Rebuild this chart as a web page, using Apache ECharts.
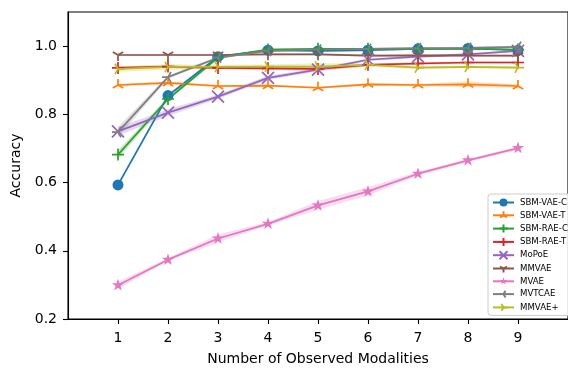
<!DOCTYPE html>
<html>
<head>
<meta charset="utf-8">
<script src="https://cdn.jsdelivr.net/npm/echarts@6/dist/echarts.min.js"></script>
<style>html,body{margin:0;padding:0;background:#fff}#c{width:568px;height:371px}</style>
</head>
<body>
<div id="c"></div>
<script>
// ---- data ----
const modalities = [1, 2, 3, 4, 5, 6, 7, 8, 9];
const seriesNames = ['SBM-VAE-C', 'SBM-VAE-T', 'SBM-RAE-C', 'SBM-RAE-T', 'MoPoE', 'MMVAE', 'MVAE', 'MVTCAE', 'MMVAE+'];
const sbmVaeC   = [0.593, 0.855, 0.969, 0.988, 0.986, 0.988, 0.992, 0.993, 0.988];
const sbmVaeT   = [0.886, 0.892, 0.883, 0.884, 0.878, 0.888, 0.886, 0.888, 0.883];
const sbmRaeC   = [0.682, 0.845, 0.966, 0.990, 0.992, 0.992, 0.992, 0.992, 0.990];
const sbmRaeT   = [0.936, 0.940, 0.936, 0.935, 0.933, 0.945, 0.949, 0.952, 0.952];
const mopoe     = [0.750, 0.805, 0.852, 0.907, 0.931, 0.960, 0.969, 0.976, 0.986];
const mmvae     = [0.974, 0.974, 0.974, 0.976, 0.976, 0.972, 0.973, 0.972, 0.972];
const mvae      = [0.299, 0.374, 0.436, 0.479, 0.533, 0.574, 0.626, 0.665, 0.701];
const mvtcae    = [0.748, 0.909, 0.966, 0.986, 0.990, 0.992, 0.994, 0.995, 0.998];
const mmvaePlus = [0.933, 0.939, 0.939, 0.940, 0.940, 0.945, 0.937, 0.939, 0.937];
// half-widths of the shaded bands
const sbmVaeCErr   = [0.005, 0.005, 0.003, 0.003, 0.003, 0.003, 0.002, 0.002, 0.003];
const sbmVaeTErr   = [0.004, 0.004, 0.003, 0.003, 0.003, 0.004, 0.004, 0.008, 0.005];
const sbmRaeCErr   = [0.012, 0.006, 0.004, 0.003, 0.003, 0.002, 0.002, 0.002, 0.002];
const sbmRaeTErr   = [0.004, 0.004, 0.003, 0.004, 0.006, 0.004, 0.004, 0.003, 0.003];
const mopoeErr     = [0.012, 0.010, 0.006, 0.006, 0.005, 0.004, 0.004, 0.003, 0.003];
const mmvaeErr     = [0.003, 0.003, 0.003, 0.003, 0.003, 0.003, 0.003, 0.003, 0.003];
const mvaeErr      = [0.010, 0.005, 0.012, 0.005, 0.013, 0.012, 0.006, 0.005, 0.005];
const mvtcaeErr    = [0.015, 0.005, 0.004, 0.003, 0.003, 0.003, 0.003, 0.003, 0.003];
const mmvaePlusErr = [0.008, 0.008, 0.006, 0.006, 0.010, 0.005, 0.004, 0.004, 0.004];
const yTicks = [0.2, 0.4, 0.6, 0.8, 1.0];

// ---- styling ----
const colors = ['#1f77b4', '#ff7f0e', '#2ca02c', '#d62728', '#9467bd', '#8c564b', '#e377c2', '#7f7f7f', '#bcbd22'];
const C = 'M-10,-10L-10,-10M10,10L10,10';
const symbols = [
  'circle',
  'path://' + C + 'M0,0L0,-10M0,0L-8.66,5M0,0L8.66,5',
  'path://' + C + 'M-10,0L10,0M0,-10L0,10',
  'path://' + C + 'M-10,0L10,0M0,-10L0,10',
  'path://' + C + 'M-10,-10L10,10M-10,10L10,-10',
  'path://' + C + 'M0,0L0,10M0,0L-8.66,-5M0,0L8.66,-5',
  'path://' + C + 'M0,-10L2.245,-3.09L9.511,-3.09L3.633,1.18L5.878,8.09L0,3.82L-5.878,8.09L-3.633,1.18L-9.511,-3.09L-2.245,-3.09Z',
  'path://' + C + 'M0,0L-10,0M0,0L5,-8.66M0,0L5,8.66',
  'path://' + C + 'M0,0L10,0M0,0L-5,-8.66M0,0L-5,8.66'
];
const sizes = [11, 12, 12, 12, 12, 12, 13, 12, 12];
const values = [sbmVaeC, sbmVaeT, sbmRaeC, sbmRaeT, mopoe, mmvae, mvae, mvtcae, mmvaePlus];
const errs = [sbmVaeCErr, sbmVaeTErr, sbmRaeCErr, sbmRaeTErr, mopoeErr, mmvaeErr, mvaeErr, mvtcaeErr, mmvaePlusErr];

const series = [];
values.forEach((v, i) => {
  const e = errs[i];
  series.push({
    name: '_band' + i, type: 'custom', silent: true, z: 1,
    data: modalities.map((x, k) => [x, v[k] - e[k], v[k] + e[k]]),
    encode: { x: 0, y: [1, 2] },
    renderItem: (params, api) => {
      if (params.dataIndexInside !== 0) return null;
      const n = modalities.length;
      const up = [], lo = [];
      for (let k = 0; k < n; k++) {
        up.push(api.coord([api.value(0, k), api.value(2, k)]));
        lo.unshift(api.coord([api.value(0, k), api.value(1, k)]));
      }
      return { type: 'polygon', shape: { points: up.concat(lo) }, style: { fill: colors[i], opacity: 0.25 } };
    }
  });
});
values.forEach((v, i) => {
  const filled = (i === 0 || i === 6);
  series.push({
    name: seriesNames[i], type: 'line', z: 2,
    symbol: symbols[i], symbolSize: sizes[i],
    lineStyle: { color: colors[i], width: 1.7 },
    itemStyle: { color: colors[i], borderColor: colors[i], borderWidth: filled ? 0 : 1.7 },
    emphasis: { disabled: true },
    data: modalities.map((x, k) => [x, v[k]])
  });
});

const txt = { fontFamily: 'DejaVu Sans', color: '#000', fontSize: 14 };
const option = {
  animation: false,
  backgroundColor: '#fff',
  grid: { left: 68, top: 12, bottom: 47.5, right: -7, show: true, borderColor: '#000', borderWidth: 1.1, containLabel: false },
  xAxis: {
    type: 'value', min: 0, max: 10, interval: 1,
    name: 'Number of Observed Modalities', nameLocation: 'middle', nameGap: 33,
    nameTextStyle: txt,
    axisLine: { show: true, lineStyle: { color: '#000', width: 1.1 } },
    axisTick: { show: true, length: 5, inside: false, lineStyle: { color: '#000', width: 1.1 }, customValues: modalities },
    axisLabel: { ...txt, margin: 12, customValues: modalities,
      formatter: v => (v >= 1 && v <= 9) ? String(v) : '' },
    splitLine: { show: false }
  },
  yAxis: {
    type: 'value', min: 0.2, max: 1.1, interval: 0.2,
    name: 'Accuracy', nameLocation: 'middle', nameGap: 42,
    nameTextStyle: txt,
    axisLine: { show: true, lineStyle: { color: '#000', width: 1.1 } },
    axisTick: { show: true, length: 5, lineStyle: { color: '#000', width: 1.1 }, customValues: yTicks },
    axisLabel: { ...txt, margin: 11, customValues: yTicks,
      formatter: v => v > 1.05 ? '' : v.toFixed(1) },
    splitLine: { show: false }
  },
  legend: {
    data: seriesNames, orient: 'vertical', left: 488, top: 194,
    itemWidth: 21, itemHeight: 10, itemGap: 3.3,
    padding: [4, 4, 3, 4],
    backgroundColor: 'rgba(255,255,255,0.85)', borderColor: '#ccc', borderWidth: 1, borderRadius: 3,
    textStyle: { fontFamily: 'DejaVu Sans', fontSize: 8.6, color: '#000', padding: [0, 0, 0, 1] }
  },
  series: series
};
echarts.init(document.getElementById('c'), null, { renderer: 'canvas' }).setOption(option);
</script>
</body>
</html>
